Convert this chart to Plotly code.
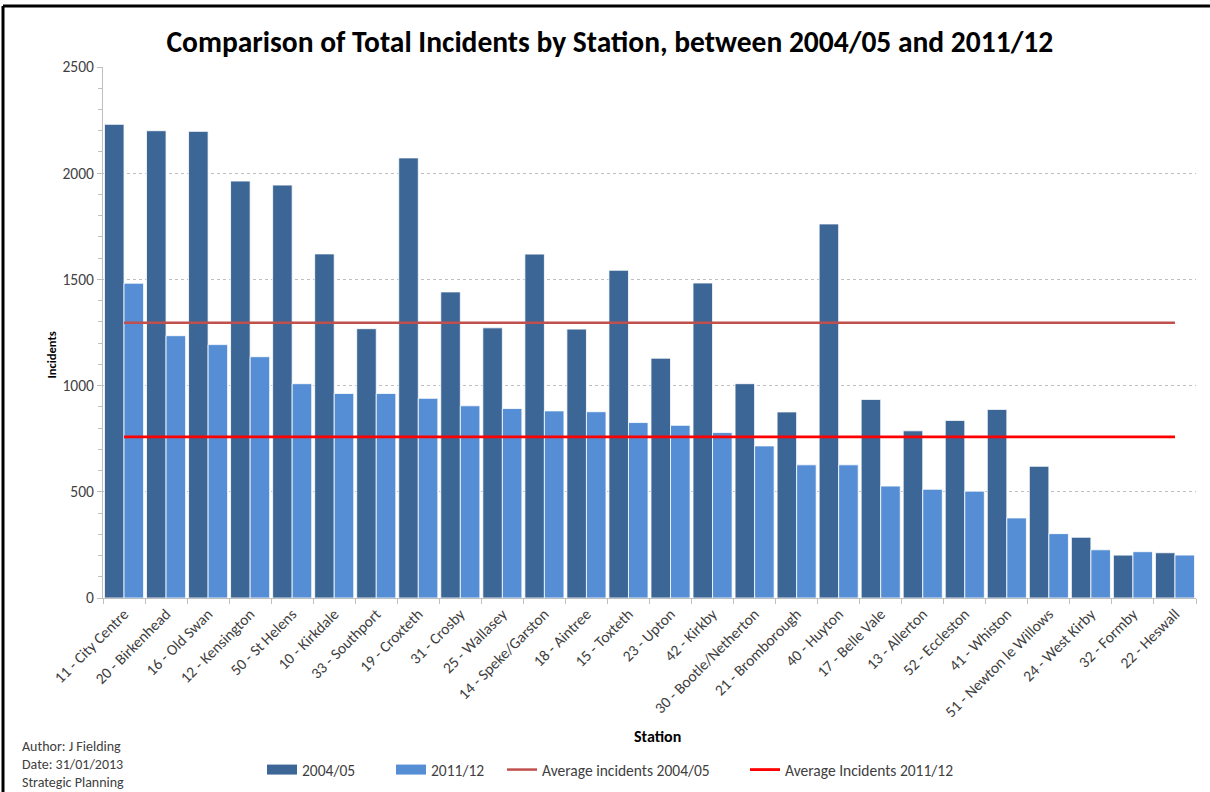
import plotly.graph_objects as go

stations = ["11 - City Centre", "20 - Birkenhead", "16 - Old Swan", "12 - Kensington", "50 - St Helens",
            "10 - Kirkdale", "33 - Southport", "19 - Croxteth", "31 - Crosby", "25 - Wallasey",
            "14 - Speke/Garston", "18 - Aintree", "15 - Toxteth", "23 - Upton", "42 - Kirkby",
            "30 - Bootle/Netherton", "21 - Bromborough", "40 - Huyton", "17 - Belle Vale", "13 - Allerton",
            "52 - Eccleston", "41 - Whiston", "51 - Newton le Willows", "24 - West Kirby", "32 - Formby",
            "22 - Heswall"]
inc_2004 = [2230, 2200, 2197, 1963, 1944, 1620, 1268, 2072, 1441, 1272,
            1619, 1266, 1543, 1129, 1483, 1009, 876, 1761, 935, 787,
            836, 888, 620, 286, 202, 213]
inc_2011 = [1482, 1235, 1193, 1136, 1009, 963, 963, 940, 905, 892,
            881, 877, 826, 813, 779, 716, 627, 627, 527, 512,
            503, 377, 303, 227, 218, 202]
avg_2004 = 1296
avg_2011 = 759
y_ticks = [0, 500, 1000, 1500, 2000, 2500]

FONT = "Carlito, Lato, 'Liberation Sans Narrow', sans-serif"
DARK = "#3C6696"
LIGHT = "#558ED5"
W, H = 1210, 792

fig = go.Figure()
fig.add_trace(go.Bar(x=stations, y=inc_2004, name="2004/05", showlegend=False,
                     marker=dict(color=DARK, line=dict(color="rgba(255,255,255,0.8)", width=1))))
fig.add_trace(go.Bar(x=stations, y=inc_2011, name="2011/12", showlegend=False,
                     marker=dict(color=LIGHT, line=dict(color="rgba(255,255,255,0.8)", width=1))))
fig.add_trace(go.Scatter(x=stations, y=[avg_2004] * len(stations), mode="lines",
                         name="Average incidents 2004/05", legend="legend3",
                         line=dict(color="#C0504D", width=2.5)))
fig.add_trace(go.Scatter(x=stations, y=[avg_2011] * len(stations), mode="lines",
                         name="Average Incidents 2011/12", legend="legend4",
                         line=dict(color="#FF0000", width=2.8)))
# legend swatches for the bar series (Excel-style wide rectangles)
fig.add_trace(go.Scatter(x=[None], y=[None], mode="lines", name="2004/05", legend="legend",
                         line=dict(color=DARK, width=10)))
fig.add_trace(go.Scatter(x=[None], y=[None], mode="lines", name="2011/12", legend="legend2",
                         line=dict(color=LIGHT, width=10)))

leg_common = dict(orientation="h", xanchor="left", xref="container", yref="container",
                  y=1 - 770 / H, yanchor="middle",
                  font=dict(family=FONT, size=15.5, color="#404040"), itemwidth=30,
                  bgcolor="rgba(0,0,0,0)")

fig.update_layout(
    width=W, height=H,
    margin=dict(l=103, r=14, t=67, b=194, autoexpand=False),
    paper_bgcolor="white", plot_bgcolor="white",
    font=dict(family=FONT, size=12, color="#404040"),
    barmode="group", bargap=0.07, bargroupgap=0,
    showlegend=True,
    legend=dict(x=262 / W, **leg_common),
    legend2=dict(x=391 / W, **leg_common),
    legend3=dict(x=502 / W, **leg_common),
    legend4=dict(x=745 / W, **leg_common),
    title=dict(text="<b>Comparison of Total Incidents by Station, between 2004/05 and 2011/12</b>",
               x=0.504, xanchor="center", y=0.948, yanchor="middle",
               font=dict(family=FONT, size=29.5, color="#000000")),
)

fig.update_yaxes(range=[0, 2500], tickvals=y_ticks, showgrid=True, automargin=False,
                 gridcolor="#BFBFBF", griddash="dot", gridwidth=1,
                 showline=True, linecolor="#BFBFBF", linewidth=1,
                 ticks="outside", ticklen=5, tickcolor="#BFBFBF",
                 minor=dict(dtick=100, ticks="outside", ticklen=4, tickcolor="#BFBFBF", showgrid=False),
                 tickfont=dict(family=FONT, size=15.5, color="#404040"), zeroline=False)
fig.update_xaxes(showline=True, linecolor="#BFBFBF", linewidth=1, automargin=False,
                 ticks="outside", tickson="boundaries", ticklen=5, tickcolor="#BFBFBF",
                 tickangle=-45, tickfont=dict(family=FONT, size=15.5, color="#404040"))

# axis titles
fig.add_annotation(text="<b>Incidents</b>", xref="paper", yref="paper", x=-0.0558, y=0.4576,
                   textangle=-90, showarrow=False, font=dict(family=FONT, size=12.5, color="#000000"))
fig.add_annotation(text="<b>Station</b>", xref="paper", yref="paper", x=0.507, y=(598 - 748) / 531,
                   showarrow=False, font=dict(family=FONT, size=16, color="#000000"))

# author notes
for i, t in enumerate(["Author: J Fielding", "Date: 31/01/2013", "Strategic Planning"]):
    fig.add_annotation(text=t, xref="paper", yref="paper", x=(20 - 103) / 1093, xanchor="left",
                       y=(598 - (746 + i * 18)) / 531, yanchor="middle", showarrow=False,
                       font=dict(family=FONT, size=14, color="#404040"))

# chart border (left and top)
fig.add_shape(type="line", xref="paper", yref="paper", x0=(3 - 103) / 1093, x1=(3 - 103) / 1093,
              y0=(598 - 800) / 531, y1=(598 - 6) / 531, line=dict(color="black", width=3))
fig.add_shape(type="line", xref="paper", yref="paper", x0=(3 - 103) / 1093, x1=(1215 - 103) / 1093,
              y0=(598 - 6) / 531, y1=(598 - 6) / 531, line=dict(color="black", width=3))

fig.write_html("out.html")
